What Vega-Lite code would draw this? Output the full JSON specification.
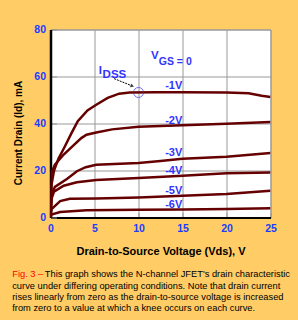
{
  "$schema": "https://vega.github.io/schema/vega-lite/v6.json",
  "width": 220,
  "height": 188,
  "autosize": {"type": "none"},
  "padding": {"left": 50.5, "top": 29.5, "right": 27.5, "bottom": 102.5},
  "background": "#FFCC66",
  "config": {
    "view": {"stroke": "#999999", "strokeWidth": 1, "fill": "white"},
    "text": {"font": "Liberation Sans"}
  },
  "datasets": {
    "curves": [
      {"c": "a", "v": 0, "i": 0}, {"c": "a", "v": 0.12, "i": 14}, {"c": "a", "v": 0.4, "i": 20}, {"c": "a", "v": 0.9, "i": 25}, {"c": "a", "v": 1.6, "i": 30}, {"c": "a", "v": 2.4, "i": 36}, {"c": "a", "v": 3.1, "i": 41}, {"c": "a", "v": 4.2, "i": 45.6}, {"c": "a", "v": 5.2, "i": 48}, {"c": "a", "v": 6.5, "i": 50.9}, {"c": "a", "v": 7.8, "i": 52.7}, {"c": "a", "v": 9, "i": 53.2}, {"c": "a", "v": 12, "i": 53.3}, {"c": "a", "v": 15, "i": 53.3}, {"c": "a", "v": 20, "i": 53.2}, {"c": "a", "v": 22.5, "i": 52.9}, {"c": "a", "v": 24, "i": 51.8}, {"c": "a", "v": 25, "i": 51.3},
      {"c": "b", "v": 0, "i": 0}, {"c": "b", "v": 0.12, "i": 19}, {"c": "b", "v": 0.5, "i": 22.5}, {"c": "b", "v": 1.5, "i": 26.8}, {"c": "b", "v": 2.7, "i": 31}, {"c": "b", "v": 3.5, "i": 33.8}, {"c": "b", "v": 4.1, "i": 35.2}, {"c": "b", "v": 5.2, "i": 36.2}, {"c": "b", "v": 7, "i": 37.5}, {"c": "b", "v": 10, "i": 38.6}, {"c": "b", "v": 15, "i": 39.3}, {"c": "b", "v": 20, "i": 39.9}, {"c": "b", "v": 25, "i": 40.6},
      {"c": "c", "v": 0, "i": 0}, {"c": "c", "v": 0.12, "i": 10}, {"c": "c", "v": 0.5, "i": 13}, {"c": "c", "v": 1.9, "i": 16.5}, {"c": "c", "v": 3, "i": 19.7}, {"c": "c", "v": 4, "i": 21.4}, {"c": "c", "v": 5.2, "i": 22.4}, {"c": "c", "v": 10, "i": 23.2}, {"c": "c", "v": 12.5, "i": 24}, {"c": "c", "v": 15, "i": 25}, {"c": "c", "v": 20, "i": 25.9}, {"c": "c", "v": 25, "i": 27.4},
      {"c": "d", "v": 0, "i": 0}, {"c": "d", "v": 0.12, "i": 8}, {"c": "d", "v": 0.4, "i": 11}, {"c": "d", "v": 1.5, "i": 13.5}, {"c": "d", "v": 3, "i": 15}, {"c": "d", "v": 5.2, "i": 16}, {"c": "d", "v": 10, "i": 16.8}, {"c": "d", "v": 15, "i": 17.8}, {"c": "d", "v": 20, "i": 18.8}, {"c": "d", "v": 25, "i": 19.2},
      {"c": "e", "v": 0, "i": 0}, {"c": "e", "v": 0.12, "i": 3.6}, {"c": "e", "v": 1.1, "i": 7}, {"c": "e", "v": 2.2, "i": 8}, {"c": "e", "v": 5.2, "i": 8.1}, {"c": "e", "v": 10, "i": 8.5}, {"c": "e", "v": 15, "i": 9.3}, {"c": "e", "v": 20, "i": 10}, {"c": "e", "v": 25, "i": 11.4},
      {"c": "f", "v": 0, "i": 0}, {"c": "f", "v": 0.12, "i": 1.3}, {"c": "f", "v": 1.1, "i": 2.3}, {"c": "f", "v": 4.1, "i": 3.1}, {"c": "f", "v": 10, "i": 3.3}, {"c": "f", "v": 15, "i": 3.4}, {"c": "f", "v": 20, "i": 3.6}, {"c": "f", "v": 25, "i": 3.9}
    ],
    "labels": [
      {"t": "-1V", "v": 14, "i": 55.9},
      {"t": "-2V", "v": 14, "i": 41},
      {"t": "-3V", "v": 14, "i": 27.5},
      {"t": "-4V", "v": 14, "i": 20},
      {"t": "-5V", "v": 14, "i": 11.4},
      {"t": "-6V", "v": 14, "i": 5.3}
    ],
    "one": [{}]
  },
  "layer": [
    {
      "data": {"name": "curves"},
      "mark": {"type": "line", "color": "#660000", "strokeWidth": 2.5, "clip": true},
      "encoding": {
        "x": {
          "field": "v", "type": "quantitative",
          "scale": {"domain": [0, 25], "nice": false, "zero": false},
          "axis": {
            "values": [0, 2.5, 5, 7.5, 10, 12.5, 15, 17.5, 20, 22.5, 25],
            "labelExpr": "datum.value % 5 === 0 ? datum.label : ''",
            "grid": true,
            "gridColor": {"condition": {"test": "datum.value % 5 !== 0", "value": "transparent"}, "value": "#999999"},
            "tickSize": -5, "tickColor": "#999999", "tickWidth": 1,
            "domainColor": "#000000", "domainWidth": 2,
            "labelColor": "#1a3cff", "labelFont": "Liberation Sans", "labelFontWeight": "bold", "labelFontSize": 10.5,
            "labelPadding": 11, "labelFlush": false, "labelOverlap": false,
            "title": "Drain-to-Source Voltage (Vds), V",
            "titleFont": "Liberation Sans", "titleFontSize": 11, "titleFontWeight": "bold", "titleColor": "#000000",
            "titleY": 34, "titleBaseline": "middle"
          }
        },
        "y": {
          "field": "i", "type": "quantitative",
          "scale": {"domain": [0, 80], "nice": false},
          "axis": {
            "values": [0, 10, 20, 30, 40, 50, 60, 70, 80],
            "labelExpr": "datum.value % 20 === 0 ? datum.label : ''",
            "grid": true,
            "gridColor": {"condition": {"test": "datum.value % 20 !== 0", "value": "transparent"}, "value": "#999999"},
            "tickSize": -6, "tickColor": "#999999", "tickWidth": 1,
            "domainColor": "#000000", "domainWidth": 2.5,
            "labelColor": "#1a3cff", "labelFont": "Liberation Sans", "labelFontWeight": "bold", "labelFontSize": 10.5,
            "labelPadding": 11, "labelFlush": false, "labelOverlap": false,
            "title": "Current Drain (Id), mA",
            "titleFont": "Liberation Sans", "titleFontSize": 10, "titleFontWeight": "bold", "titleColor": "#000000",
            "titleX": -32, "titleY": 103, "titleBaseline": "middle"
          }
        },
        "detail": {"field": "c", "type": "nominal"}
      }
    },
    {
      "data": {"name": "labels"},
      "mark": {"type": "text", "color": "#3333ff", "fontWeight": "bold", "fontSize": 11},
      "encoding": {
        "x": {"field": "v", "type": "quantitative"},
        "y": {"field": "i", "type": "quantitative"},
        "text": {"field": "t", "type": "nominal"}
      }
    },
    {
      "data": {"name": "one"},
      "mark": {"type": "text", "color": "#3333ff", "fontWeight": "bold", "fontSize": 11.5, "align": "center"},
      "encoding": {"x": {"datum": 11.85, "type": "quantitative"}, "y": {"datum": 68.7, "type": "quantitative"}, "text": {"value": "V"}}
    },
    {
      "data": {"name": "one"},
      "mark": {"type": "text", "color": "#3333ff", "fontWeight": "bold", "fontSize": 10.5, "align": "left"},
      "encoding": {"x": {"datum": 12.3, "type": "quantitative"}, "y": {"datum": 66.3, "type": "quantitative"}, "text": {"value": "GS = 0"}}
    },
    {
      "data": {"name": "one"},
      "mark": {"type": "text", "color": "#3333ff", "fontWeight": "bold", "fontSize": 11.5, "align": "center"},
      "encoding": {"x": {"datum": 5.67, "type": "quantitative"}, "y": {"datum": 62.2, "type": "quantitative"}, "text": {"value": "I"}}
    },
    {
      "data": {"name": "one"},
      "mark": {"type": "text", "color": "#3333ff", "fontWeight": "bold", "fontSize": 11.5, "align": "left"},
      "encoding": {"x": {"datum": 5.92, "type": "quantitative"}, "y": {"datum": 60.8, "type": "quantitative"}, "text": {"value": "DSS"}}
    },
    {
      "data": {"name": "one"},
      "mark": {"type": "rule", "color": "#000000", "strokeWidth": 1, "strokeDash": [2, 1]},
      "encoding": {"x": {"datum": 7.23, "type": "quantitative"}, "y": {"datum": 59.1, "type": "quantitative"}, "x2": {"datum": 9.2}, "y2": {"datum": 56.1}}
    },
    {
      "data": {"name": "one"},
      "mark": {"type": "point", "shape": "triangle-right", "filled": true, "color": "#000000", "size": 18, "angle": 23},
      "encoding": {"x": {"datum": 9.3, "type": "quantitative"}, "y": {"datum": 55.9, "type": "quantitative"}}
    },
    {
      "data": {"name": "one"},
      "mark": {"type": "point", "shape": "circle", "filled": false, "color": "#3333ff", "strokeWidth": 1, "size": 100},
      "encoding": {"x": {"datum": 10, "type": "quantitative"}, "y": {"datum": 53.2, "type": "quantitative"}}
    },
    {
      "data": {"name": "one"},
      "mark": {"type": "text", "color": "#ff0000", "fontSize": 9.3, "align": "left", "baseline": "alphabetic", "clip": false},
      "encoding": {"x": {"datum": -4.35, "type": "quantitative"}, "y": {"datum": -25.4, "type": "quantitative"}, "text": {"value": "Fig. 3 –"}}
    },
    {
      "data": {"name": "one"},
      "mark": {"type": "text", "color": "#000000", "fontSize": 9.3, "align": "left", "baseline": "alphabetic", "clip": false},
      "encoding": {"x": {"datum": -0.648, "type": "quantitative"}, "y": {"datum": -25.4, "type": "quantitative"}, "text": {"value": "This graph shows the N-channel JFET's drain characteristic"}}
    },
    {
      "data": {"name": "one"},
      "mark": {"type": "text", "color": "#000000", "fontSize": 9.3, "align": "left", "baseline": "alphabetic", "lineHeight": 11, "clip": false},
      "encoding": {"x": {"datum": -4.35, "type": "quantitative"}, "y": {"datum": -30.3, "type": "quantitative"}, "text": {"value": ["curve under differing operating conditions.  Note that drain current", "rises linearly from zero as the drain-to-source voltage is increased", "from zero to a value at which a knee occurs on each curve."]}}
    }
  ]
}
